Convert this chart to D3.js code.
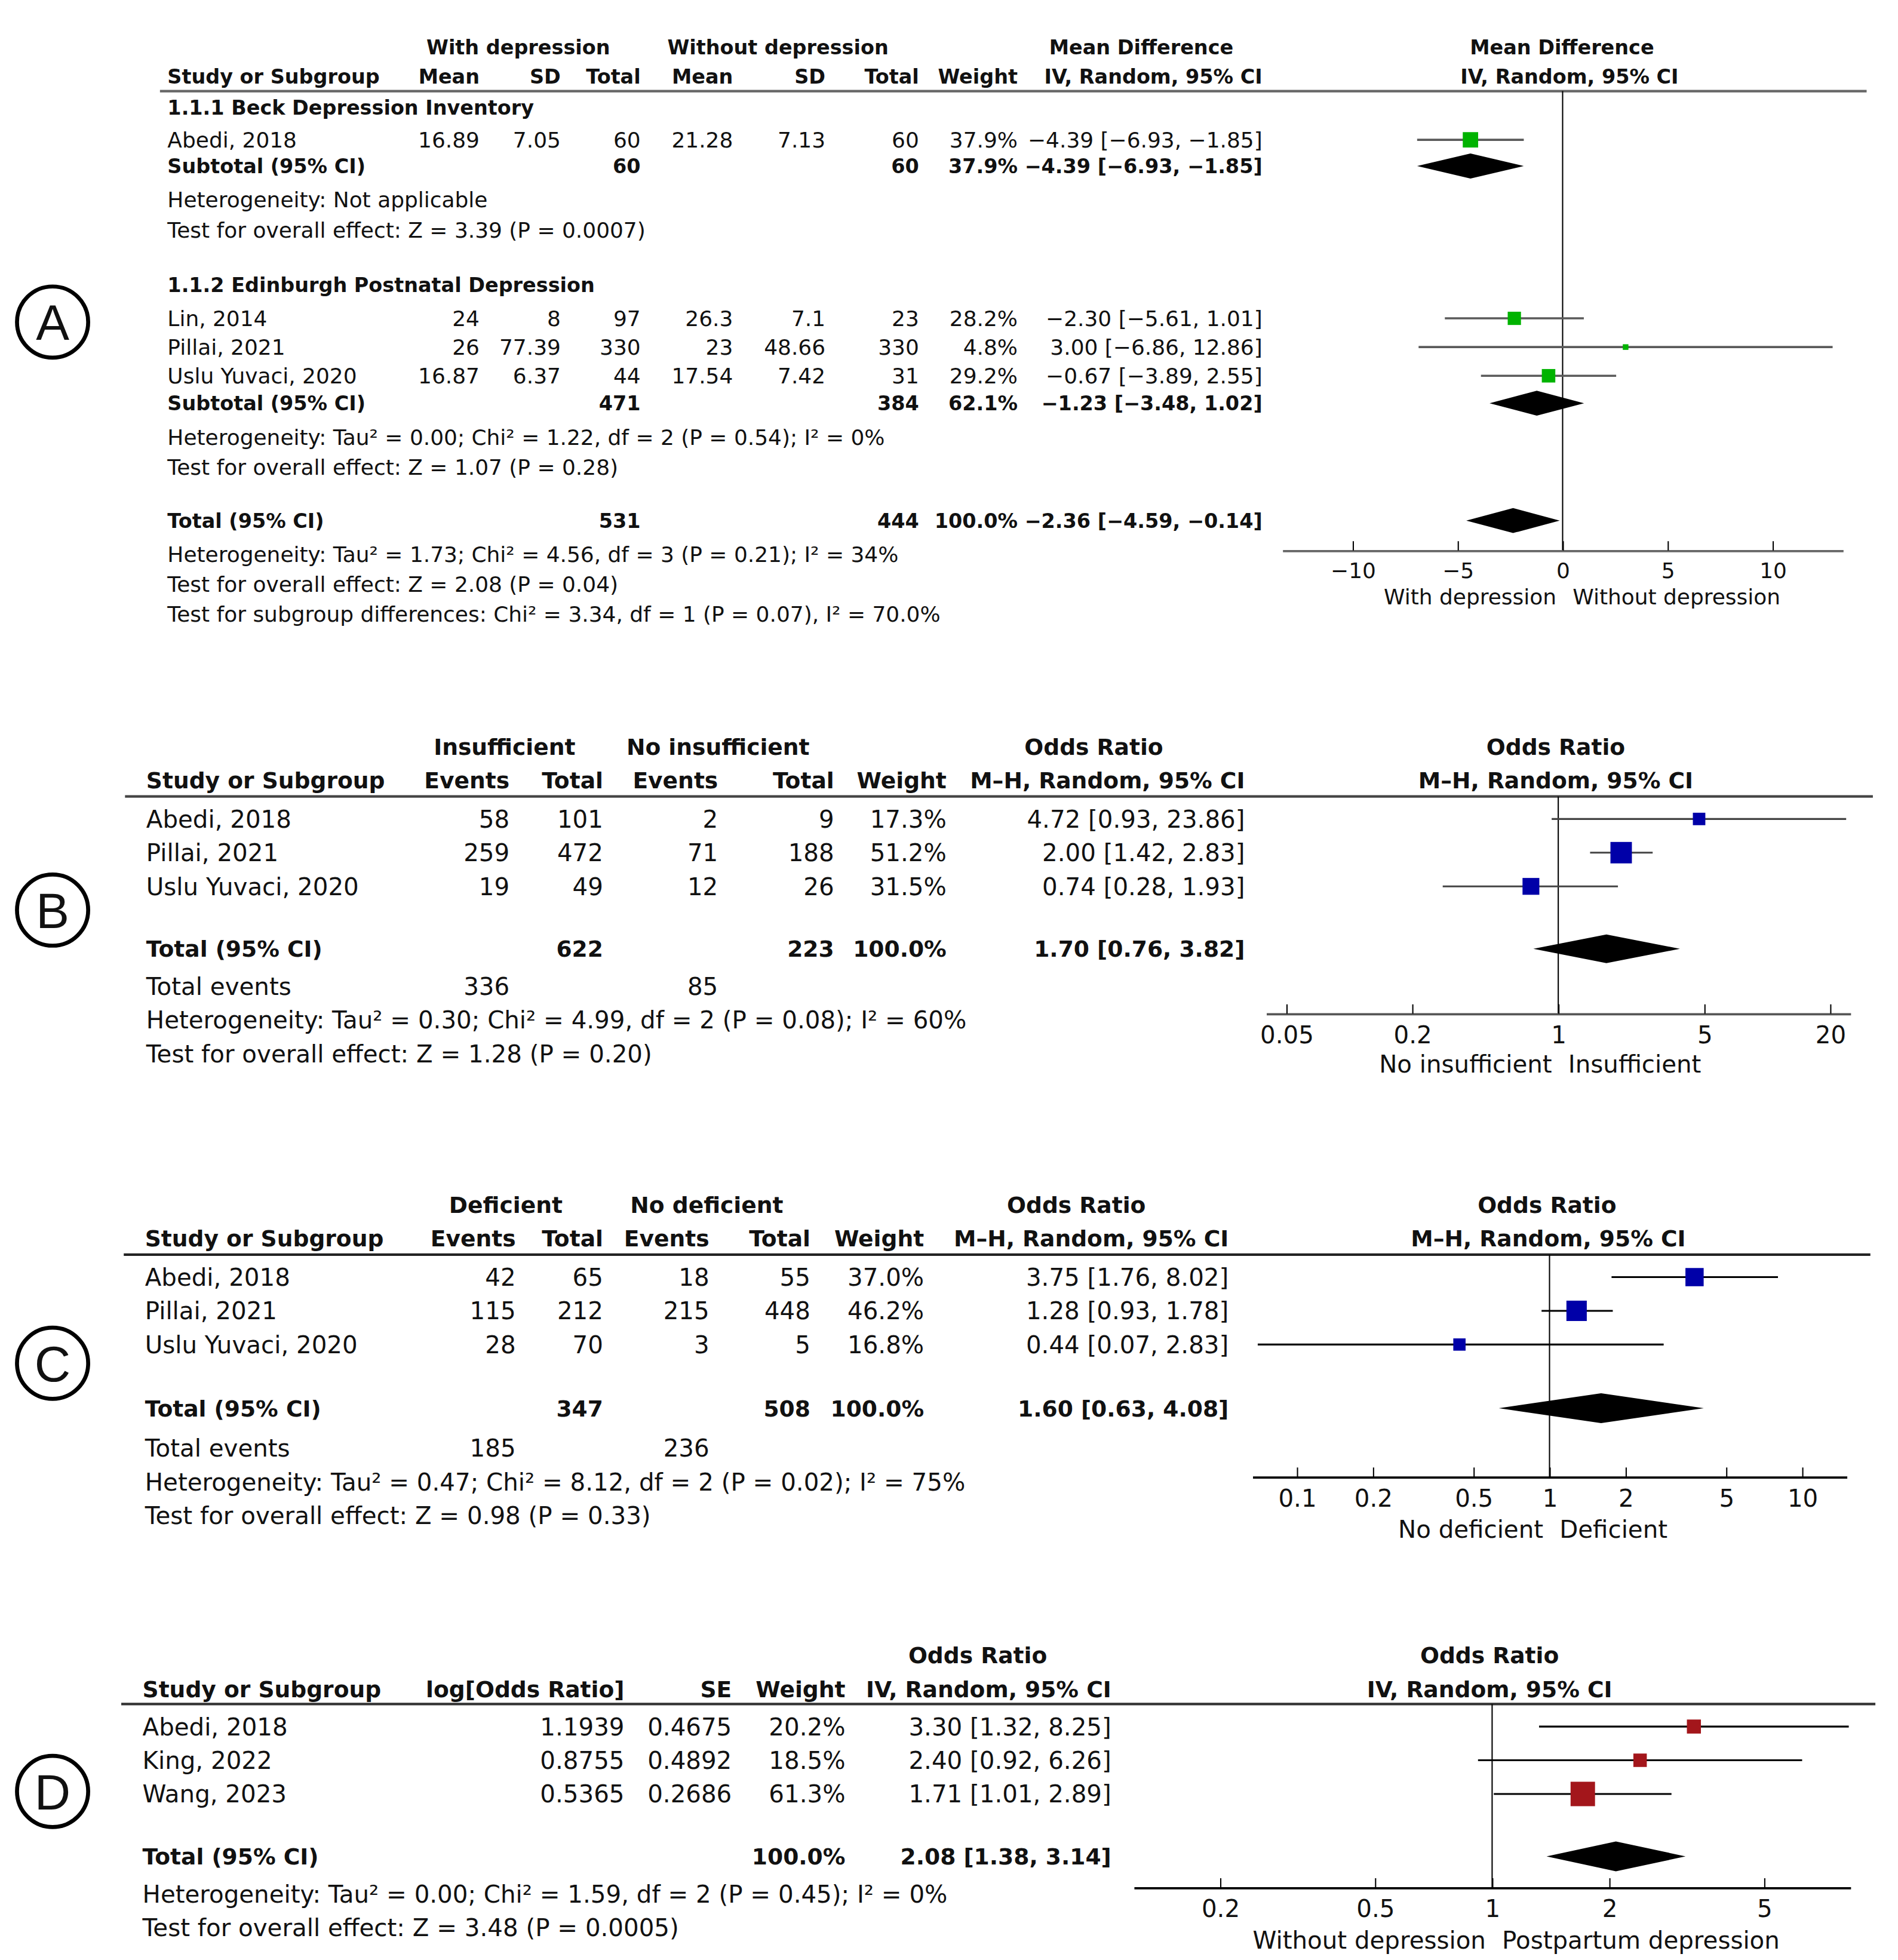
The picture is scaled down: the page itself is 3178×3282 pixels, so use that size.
<!DOCTYPE html>
<html>
<head>
<meta charset="utf-8">
<script src="https://cdn.jsdelivr.net/npm/d3@7/dist/d3.min.js"></script>
<style>
html, body { margin: 0; padding: 0; background: #fff; }
svg text { font-family: "DejaVu Sans", Verdana, sans-serif; fill: #111; }
</style>
</head>
<body>
<svg id="chart" width="3178" height="3282" viewBox="0 0 1520 1570"></svg>
<script>
// ---- Panel A : mean difference, depression scores ----
var aGroups = ["1.1.1 Beck Depression Inventory", "1.1.2 Edinburgh Postnatal Depression"];
var aStudies = ["Abedi, 2018", "Lin, 2014", "Pillai, 2021", "Uslu Yuvaci, 2020"];
var aMean1 = ["16.89", "24", "26", "16.87"];
var aSD1 = ["7.05", "8", "77.39", "6.37"];
var aN1 = [60, 97, 330, 44];
var aMean2 = ["21.28", "26.3", "23", "17.54"];
var aSD2 = ["7.13", "7.1", "48.66", "7.42"];
var aN2 = [60, 23, 330, 31];
var aWeight = [37.9, 28.2, 4.8, 29.2];
var aEst = [-4.39, -2.30, 3.00, -0.67];
var aLo = [-6.93, -5.61, -6.86, -3.89];
var aHi = [-1.85, 1.01, 12.86, 2.55];
var aSubN1 = [60, 471], aSubN2 = [60, 384], aSubWeight = [37.9, 62.1];
var aSubEst = [-4.39, -1.23], aSubLo = [-6.93, -3.48], aSubHi = [-1.85, 1.02];
var aSubStats = [
    ["Heterogeneity: Not applicable", "Test for overall effect: Z = 3.39 (P = 0.0007)"],
    ["Heterogeneity: Tau² = 0.00; Chi² = 1.22, df = 2 (P = 0.54); I² = 0%", "Test for overall effect: Z = 1.07 (P = 0.28)"]
];
var aTotal = {n1: 531, n2: 444, w: 100.0, est: -2.36, lo: -4.59, hi: -0.14};
var aTotalStats = [
    "Heterogeneity: Tau² = 1.73; Chi² = 4.56, df = 3 (P = 0.21); I² = 34%",
    "Test for overall effect: Z = 2.08 (P = 0.04)",
    "Test for subgroup differences: Chi² = 3.34, df = 1 (P = 0.07), I² = 70.0%"
];
var aTicks = [-10, -5, 0, 5, 10];
var aSides = ["With depression", "Without depression"];

// ---- Panel B : vitamin D insufficiency ----
var bStudies = ["Abedi, 2018", "Pillai, 2021", "Uslu Yuvaci, 2020"];
var bEv1 = [58, 259, 19], bN1 = [101, 472, 49];
var bEv2 = [2, 71, 12], bN2 = [9, 188, 26];
var bWeight = [17.3, 51.2, 31.5];
var bEst = [4.72, 2.00, 0.74], bLo = [0.93, 1.42, 0.28], bHi = [23.86, 2.83, 1.93];
var bTotal = {n1: 622, n2: 223, w: 100.0, est: 1.70, lo: 0.76, hi: 3.82, ev1: 336, ev2: 85};
var bStats = ["Heterogeneity: Tau² = 0.30; Chi² = 4.99, df = 2 (P = 0.08); I² = 60%",
              "Test for overall effect: Z = 1.28 (P = 0.20)"];
var bTicks = [0.05, 0.2, 1, 5, 20];
var bSides = ["No insufficient", "Insufficient"];

// ---- Panel C : vitamin D deficiency ----
var cStudies = ["Abedi, 2018", "Pillai, 2021", "Uslu Yuvaci, 2020"];
var cEv1 = [42, 115, 28], cN1 = [65, 212, 70];
var cEv2 = [18, 215, 3], cN2 = [55, 448, 5];
var cWeight = [37.0, 46.2, 16.8];
var cEst = [3.75, 1.28, 0.44], cLo = [1.76, 0.93, 0.07], cHi = [8.02, 1.78, 2.83];
var cTotal = {n1: 347, n2: 508, w: 100.0, est: 1.60, lo: 0.63, hi: 4.08, ev1: 185, ev2: 236};
var cStats = ["Heterogeneity: Tau² = 0.47; Chi² = 8.12, df = 2 (P = 0.02); I² = 75%",
              "Test for overall effect: Z = 0.98 (P = 0.33)"];
var cTicks = [0.1, 0.2, 0.5, 1, 2, 5, 10];
var cSides = ["No deficient", "Deficient"];

// ---- Panel D : log odds ratio ----
var dStudies = ["Abedi, 2018", "King, 2022", "Wang, 2023"];
var dLogOR = [1.1939, 0.8755, 0.5365];
var dSE = [0.4675, 0.4892, 0.2686];
var dWeight = [20.2, 18.5, 61.3];
var dEst = [3.30, 2.40, 1.71], dLo = [1.32, 0.92, 1.01], dHi = [8.25, 6.26, 2.89];
var dTotal = {w: 100.0, est: 2.08, lo: 1.38, hi: 3.14};
var dStats = ["Heterogeneity: Tau² = 0.00; Chi² = 1.59, df = 2 (P = 0.45); I² = 0%",
              "Test for overall effect: Z = 3.48 (P = 0.0005)"];
var dTicks = [0.2, 0.5, 1, 2, 5];
var dSides = ["Without depression", "Postpartum depression"];

var svg = d3.select("#chart");
var f2 = d3.format(".2f");
var pct = function(w) { return w.toFixed(1) + "%"; };
var ci = function(e, l, h) { return f2(e) + " [" + f2(l) + ", " + f2(h) + "]"; };

function label(g, x, y, s, anchor, size, bold) {
    return g.append("text")
        .attr("x", x).attr("y", y).attr("dy", "0.36em")
        .attr("text-anchor", anchor || "start")
        .attr("font-size", size)
        .attr("font-weight", bold ? "bold" : "normal")
        .text(s);
}

function badge(letter, cy) {
    svg.append("circle").attr("cx", 42).attr("cy", cy).attr("r", 28.5)
        .attr("fill", "none").attr("stroke", "#000").attr("stroke-width", 3.2);
    svg.append("text").attr("x", 42).attr("y", cy).attr("dy", "0.36em")
        .attr("text-anchor", "middle").attr("font-size", 40)
        .style("font-family", "'Liberation Sans', Arial, sans-serif")
        .text(letter);
}

// p: panel description (layout + the rows built from the arrays)
function drawPanel(p) {
    var g = svg.append("g");
    var fb = p.fontBold, fn = p.font;

    p.head1.forEach(function(h) { label(g, h[1], p.head1Y, h[0], "middle", fb, true); });
    p.head2.forEach(function(h) { label(g, h[1], p.head2Y, h[0], h[2], fb, true); });

    g.append("line")
        .attr("x1", p.rule[0]).attr("x2", p.rule[1])
        .attr("y1", p.ruleY).attr("y2", p.ruleY)
        .attr("stroke", p.ruleColor).attr("stroke-width", 2);

    var x = p.scale;
    var lo = x.domain()[0], hi = x.domain()[1];
    var clamp = function(v) { return Math.max(lo, Math.min(hi, v)); };
    var size = d3.scaleSqrt().domain([0, 100]).range([0, p.sqMax]);

    // zero / no-effect line
    g.append("line")
        .attr("x1", x(p.nullValue)).attr("x2", x(p.nullValue))
        .attr("y1", p.ruleY).attr("y2", p.axisY)
        .attr("stroke", "#000").attr("stroke-width", 1);

    p.rows.forEach(function(r) {
        var fs = r.bold ? fb : fn;
        if (r.text) label(g, p.left, r.y, r.text, "start", fs, r.bold);
        (r.cells || []).forEach(function(c) {
            label(g, c[1], r.y, c[0], "end", fs, r.bold);
        });
        if (r.mark === "square") {
            g.append("line")
                .attr("x1", x(clamp(r.lo))).attr("x2", x(clamp(r.hi)))
                .attr("y1", r.y).attr("y2", r.y)
                .attr("stroke", p.lineColor).attr("stroke-width", p.lineWidth);
            var s = Math.max(4.5, size(r.w));
            g.append("rect")
                .attr("x", x(r.est) - s / 2).attr("y", r.y - s / 2)
                .attr("width", s).attr("height", s)
                .attr("fill", p.color);
        } else if (r.mark === "diamond") {
            var h = p.diaH;
            g.append("path")
                .attr("d", "M" + x(r.lo) + "," + r.y + "L" + x(r.est) + "," + (r.y - h) +
                           "L" + x(r.hi) + "," + r.y + "L" + x(r.est) + "," + (r.y + h) + "Z")
                .attr("fill", "#000");
        }
    });

    var axis = d3.axisBottom(x)
        .tickValues(p.ticks)
        .tickFormat(p.tickFormat)
        .tickSizeInner(-7.5)
        .tickSizeOuter(0)
        .tickPadding(10);
    var ax = g.append("g")
        .attr("transform", "translate(0," + p.axisY + ")")
        .call(axis);
    ax.attr("font-family", null).attr("font-size", null);
    ax.select(".domain").attr("stroke", p.axisColor).attr("stroke-width", 1.8);
    ax.selectAll(".tick line").attr("stroke", "#000").attr("stroke-width", 1);
    ax.selectAll(".tick text").attr("font-size", fn).attr("fill", "#111");

    label(g, x(p.nullValue) - 5, p.sideY, p.sides[0], "end", fn, false);
    label(g, x(p.nullValue) + 8, p.sideY, p.sides[1], "start", fn, false);
}

// ---------- Panel A ----------
var aCols = [384, 449, 513, 587, 661, 736, 815, 1011];
var aRows = [];
var aStudyY = [[112], [255, 278, 301]];
var aGroupY = [86, 228], aSubY = [133, 323], aStatY = [[160, 184], [350, 374]];
var aIdx = [[0], [1, 2, 3]];
aGroups.forEach(function(name, gi) {
    aRows.push({y: aGroupY[gi], text: name, bold: true});
    aIdx[gi].forEach(function(i, k) {
        aRows.push({
            y: aStudyY[gi][k], text: aStudies[i], mark: "square",
            est: aEst[i], lo: aLo[i], hi: aHi[i], w: aWeight[i],
            cells: [[aMean1[i], aCols[0]], [aSD1[i], aCols[1]], [String(aN1[i]), aCols[2]],
                    [aMean2[i], aCols[3]], [aSD2[i], aCols[4]], [String(aN2[i]), aCols[5]],
                    [pct(aWeight[i]), aCols[6]], [ci(aEst[i], aLo[i], aHi[i]), aCols[7]]]
        });
    });
    aRows.push({
        y: aSubY[gi], text: "Subtotal (95% CI)", bold: true, mark: "diamond",
        est: aSubEst[gi], lo: aSubLo[gi], hi: aSubHi[gi],
        cells: [[String(aSubN1[gi]), aCols[2]], [String(aSubN2[gi]), aCols[5]],
                [pct(aSubWeight[gi]), aCols[6]], [ci(aSubEst[gi], aSubLo[gi], aSubHi[gi]), aCols[7]]]
    });
    aSubStats[gi].forEach(function(t, k) { aRows.push({y: aStatY[gi][k], text: t}); });
});
aRows.push({
    y: 417, text: "Total (95% CI)", bold: true, mark: "diamond",
    est: aTotal.est, lo: aTotal.lo, hi: aTotal.hi,
    cells: [[String(aTotal.n1), aCols[2]], [String(aTotal.n2), aCols[5]],
            [pct(aTotal.w), aCols[6]], [ci(aTotal.est, aTotal.lo, aTotal.hi), aCols[7]]]
});
aTotalStats.forEach(function(t, k) { aRows.push({y: 444 + 24 * k, text: t}); });

drawPanel({
    fontBold: 16, font: 17.2, left: 134,
    head1Y: 38, head2Y: 61,
    head1: [["With depression", 415], ["Without depression", 623], ["Mean Difference", 914], ["Mean Difference", 1251]],
    head2: [["Study or Subgroup", 134, "start"], ["Mean", 384, "end"], ["SD", 449, "end"], ["Total", 513, "end"],
            ["Mean", 587, "end"], ["SD", 661, "end"], ["Total", 736, "end"], ["Weight", 815, "end"],
            ["IV, Random, 95% CI", 1011, "end"], ["IV, Random, 95% CI", 1257, "middle"]],
    rule: [128, 1495], ruleY: 73, ruleColor: "#666",
    scale: d3.scaleLinear().domain([-13.35, 13.35]).range([1027, 1476]),
    nullValue: 0, ticks: aTicks, tickFormat: d3.format("d"),
    axisY: 441, sideY: 478, sides: aSides,
    rows: aRows, color: "#00b300", lineColor: "#5a5a5a", lineWidth: 1.7, axisColor: "#666",
    sqMax: 20, diaH: 10
});

// ---------- Panels B and C (dichotomous) ----------
function eventRows(studies, ev1, n1, ev2, n2, weight, est, lo, hi, total, stats, cols, ys) {
    var rows = studies.map(function(s, i) {
        return {
            y: ys[i], text: s, mark: "square", est: est[i], lo: lo[i], hi: hi[i], w: weight[i],
            cells: [[String(ev1[i]), cols[0]], [String(n1[i]), cols[1]], [String(ev2[i]), cols[2]],
                    [String(n2[i]), cols[3]], [pct(weight[i]), cols[4]], [ci(est[i], lo[i], hi[i]), cols[5]]]
        };
    });
    rows.push({
        y: ys[3], text: "Total (95% CI)", bold: true, mark: "diamond",
        est: total.est, lo: total.lo, hi: total.hi,
        cells: [[String(total.n1), cols[1]], [String(total.n2), cols[3]],
                [pct(total.w), cols[4]], [ci(total.est, total.lo, total.hi), cols[5]]]
    });
    rows.push({y: ys[4], text: "Total events", cells: [[String(total.ev1), cols[0]], [String(total.ev2), cols[2]]]});
    rows.push({y: ys[5], text: stats[0]});
    rows.push({y: ys[6], text: stats[1]});
    return rows;
}

var bCols = [408, 483, 575, 668, 758, 997];
drawPanel({
    fontBold: 18, font: 19.3, left: 117,
    head1Y: 598, head2Y: 625,
    head1: [["Insufficient", 404], ["No insufficient", 575], ["Odds Ratio", 876], ["Odds Ratio", 1246]],
    head2: [["Study or Subgroup", 117, "start"], ["Events", 408, "end"], ["Total", 483, "end"],
            ["Events", 575, "end"], ["Total", 668, "end"], ["Weight", 758, "end"],
            ["M–H, Random, 95% CI", 997, "end"], ["M–H, Random, 95% CI", 1246, "middle"]],
    rule: [100, 1500], ruleY: 638, ruleColor: "#444",
    scale: d3.scaleLog().domain([0.04, 25]).range([1014, 1482]),
    nullValue: 1, ticks: bTicks, tickFormat: d3.format("~g"),
    axisY: 812, sideY: 852, sides: bSides,
    rows: eventRows(bStudies, bEv1, bN1, bEv2, bN2, bWeight, bEst, bLo, bHi, bTotal, bStats, bCols,
                    [656, 683, 710, 760, 790, 817, 844]),
    color: "#0000a8", lineColor: "#444", lineWidth: 1.5, axisColor: "#555",
    sqMax: 24, diaH: 11.5
});

var cCols = [413, 483, 568, 649, 740, 984];
drawPanel({
    fontBold: 18, font: 19.3, left: 116,
    head1Y: 965, head2Y: 992,
    head1: [["Deficient", 405], ["No deficient", 566], ["Odds Ratio", 862], ["Odds Ratio", 1239]],
    head2: [["Study or Subgroup", 116, "start"], ["Events", 413, "end"], ["Total", 483, "end"],
            ["Events", 568, "end"], ["Total", 649, "end"], ["Weight", 740, "end"],
            ["M–H, Random, 95% CI", 984, "end"], ["M–H, Random, 95% CI", 1240, "middle"]],
    rule: [99, 1498], ruleY: 1005, ruleColor: "#222",
    scale: d3.scaleLog().domain([1 / 15, 15]).range([1003, 1479]),
    nullValue: 1, ticks: cTicks, tickFormat: d3.format("~g"),
    axisY: 1183, sideY: 1225, sides: cSides,
    rows: eventRows(cStudies, cEv1, cN1, cEv2, cN2, cWeight, cEst, cLo, cHi, cTotal, cStats, cCols,
                    [1023, 1050, 1077, 1128, 1160, 1187, 1214]),
    color: "#0000a8", lineColor: "#000", lineWidth: 1.5, axisColor: "#000",
    sqMax: 24, diaH: 12
});

// ---------- Panel D (generic inverse variance) ----------
var dCols = [500, 586, 677, 890];
var dRowY = [1383, 1410, 1437];
var dRows = dStudies.map(function(s, i) {
    return {
        y: dRowY[i], text: s, mark: "square", est: dEst[i], lo: dLo[i], hi: dHi[i], w: dWeight[i],
        cells: [[dLogOR[i].toFixed(4), dCols[0]], [dSE[i].toFixed(4), dCols[1]],
                [pct(dWeight[i]), dCols[2]], [ci(dEst[i], dLo[i], dHi[i]), dCols[3]]]
    };
});
dRows.push({
    y: 1487, text: "Total (95% CI)", bold: true, mark: "diamond",
    est: dTotal.est, lo: dTotal.lo, hi: dTotal.hi,
    cells: [[pct(dTotal.w), dCols[2]], [ci(dTotal.est, dTotal.lo, dTotal.hi), dCols[3]]]
});
dRows.push({y: 1517, text: dStats[0]});
dRows.push({y: 1544, text: dStats[1]});

drawPanel({
    fontBold: 18, font: 19.3, left: 114,
    head1Y: 1326, head2Y: 1353,
    head1: [["Odds Ratio", 783], ["Odds Ratio", 1193]],
    head2: [["Study or Subgroup", 114, "start"], ["log[Odds Ratio]", 500, "end"], ["SE", 586, "end"],
            ["Weight", 677, "end"], ["IV, Random, 95% CI", 890, "end"], ["IV, Random, 95% CI", 1193, "middle"]],
    rule: [97, 1502], ruleY: 1365, ruleColor: "#333",
    scale: d3.scaleLog().domain([0.12, 8.33]).range([908, 1482]),
    nullValue: 1, ticks: dTicks, tickFormat: d3.format("~g"),
    axisY: 1512, sideY: 1554, sides: dSides,
    rows: dRows, color: "#a3161b", lineColor: "#000", lineWidth: 1.5, axisColor: "#000",
    sqMax: 25, diaH: 12
});

badge("A", 258);
badge("B", 729);
badge("C", 1092);
badge("D", 1435);
</script>
</body>
</html>
